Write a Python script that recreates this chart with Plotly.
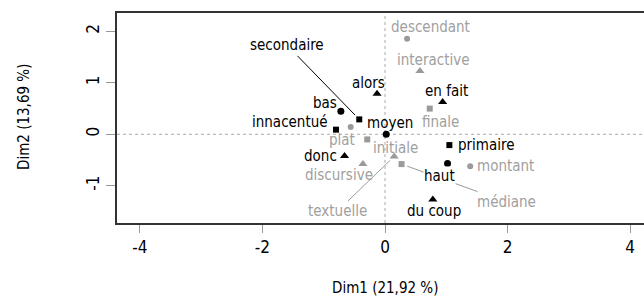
import plotly.graph_objects as go

# ---------------- data ----------------
niveau_labels = ["bas", "moyen", "haut"]
niveau_dim1 = [-0.72, 0.02, 1.02]
niveau_dim2 = [0.45, 0.00, -0.57]

contour_labels = ["descendant", "plat", "montant"]
contour_dim1 = [0.36, -0.56, 1.39]
contour_dim2 = [1.86, 0.14, -0.62]

accent_labels = ["innacentué", "secondaire", "primaire"]
accent_dim1 = [-0.80, -0.42, 1.05]
accent_dim2 = [0.09, 0.29, -0.21]

position_labels = ["initiale", "finale", "médiane"]
position_dim1 = [-0.29, 0.73, 0.27]
position_dim2 = [-0.10, 0.50, -0.58]

marqueur_labels = ["alors", "en fait", "donc", "du coup"]
marqueur_dim1 = [-0.13, 0.94, -0.66, 0.78]
marqueur_dim2 = [0.79, 0.63, -0.42, -1.27]

fonction_labels = ["interactive", "discursive", "textuelle"]
fonction_dim1 = [0.57, -0.36, 0.15]
fonction_dim2 = [1.23, -0.58, -0.43]

x_ticks = [-4, -2, 0, 2, 4]
x_ticktext = ["-4", "-2", "0", "2", "4"]
y_ticks = [-1, 0, 1, 2]
y_ticktext = ["-1", "0", "1", "2"]
x_title = "Dim1 (21,92 %)"
y_title = "Dim2 (13,69 %)"

# ---------------- styles ----------------
BLACK = "#000000"
GREY = "#9a9a9a"
GREY_TXT = "#a0a0a0"
FONT = "DejaVu Sans Condensed, DejaVu Sans, sans-serif"
FS = 15

groups = [
    (niveau_labels, niveau_dim1, niveau_dim2, "circle", 7, BLACK, BLACK),
    (contour_labels, contour_dim1, contour_dim2, "circle", 6, GREY, GREY_TXT),
    (accent_labels, accent_dim1, accent_dim2, "square", 6, BLACK, BLACK),
    (position_labels, position_dim1, position_dim2, "square", 6, GREY, GREY_TXT),
    (marqueur_labels, marqueur_dim1, marqueur_dim2, "triangle-up", 8, BLACK, BLACK),
    (fonction_labels, fonction_dim1, fonction_dim2, "triangle-up", 8, GREY, GREY_TXT),
]

# label placement: (xanchor, xshift px, yshift px downward) or ("arrow", ax, ay)
label_place = {
    "bas": ("right", -2, -8),
    "moyen": ("center", 4, -11),
    "haut": ("center", -8, 12),
    "descendant": ("center", 23, -12),
    "plat": ("center", -9, 13),
    "montant": ("left", 5, 0),
    "innacentué": ("right", -6, -8),
    "secondaire": ("arrow", -72, -74),
    "primaire": ("left", 7, 0),
    "initiale": ("left", 4, 9),
    "finale": ("center", 11, 13),
    "médiane": ("arrow", 105, 38),
    "alors": ("center", -9, -11),
    "en fait": ("center", 4, -11),
    "donc": ("right", -6, 0),
    "du coup": ("center", 1, 11),
    "interactive": ("center", 13, -11),
    "discursive": ("center", -24, 11),
    "textuelle": ("arrow", -57, 55),
}

fig = go.Figure()
annotations = []
haut_ann = None
for labels, xs, ys, sym, size, mcol, tcol in groups:
    fig.add_trace(go.Scatter(
        x=xs, y=ys, mode="markers", text=labels, hoverinfo="text",
        marker=dict(symbol=sym, size=size, color=mcol, line=dict(width=0)),
        showlegend=False,
    ))
    for lab, xv, yv in zip(labels, xs, ys):
        p = label_place[lab]
        if p[0] == "arrow":
            ann = dict(x=xv, y=yv, xref="x", yref="y", text=lab, showarrow=True,
                       ax=p[1], ay=p[2], arrowhead=0, arrowwidth=1,
                       arrowcolor=mcol, standoff=6,
                       font=dict(family=FONT, size=FS, color=tcol))
        else:
            ann = dict(x=xv, y=yv, xref="x", yref="y", text=lab, showarrow=False,
                       xanchor=p[0], yanchor="middle", xshift=p[1], yshift=-p[2],
                       font=dict(family=FONT, size=FS, color=tcol))
        if lab == "haut":
            ann.update(bgcolor="white", borderpad=0)
            haut_ann = ann
        else:
            annotations.append(ann)
annotations.append(haut_ann)

# axis titles
annotations.append(dict(x=0, y=0, xref="x", yref="paper", text=x_title,
                        showarrow=False, yanchor="middle", yshift=-65,
                        font=dict(family=FONT, size=FS, color=BLACK)))
annotations.append(dict(x=0, y=0.5, xref="paper", yref="paper", text=y_title,
                        showarrow=False, xanchor="center", yanchor="middle",
                        xshift=-93, yshift=1, textangle=-90,
                        font=dict(family=FONT, size=FS, color=BLACK)))

fig.add_hline(y=0, line=dict(color="#aaaaaa", width=1, dash="3px,3px"), layer="below")
fig.add_vline(x=0, line=dict(color="#aaaaaa", width=1, dash="3px,3px"), layer="below")

fig.update_layout(
    width=644, height=301,
    margin=dict(l=117, r=0, t=13, b=78, autoexpand=False),
    paper_bgcolor="white", plot_bgcolor="white",
    annotations=annotations,
    font=dict(family=FONT, size=FS, color=BLACK),
    xaxis=dict(range=[-4.372, 4.225], tickvals=x_ticks, ticktext=x_ticktext,
               ticks="outside", automargin=False,
               ticklen=8, tickcolor="#999999", tickwidth=1,
               showline=True, mirror=True, linecolor="#333333", linewidth=1.5,
               showgrid=False, zeroline=False,
               tickfont=dict(family=FONT, size=17, color=BLACK)),
    yaxis=dict(range=[-1.726, 2.36], tickvals=y_ticks, ticktext=y_ticktext,
               ticks="outside", automargin=False,
               ticklen=9, tickcolor="#999999", tickwidth=1, tickangle=-90,
               showline=True, mirror=False, linecolor="#333333", linewidth=1.5,
               showgrid=False, zeroline=False,
               tickfont=dict(family=FONT, size=17, color=BLACK)),
)

# remove the default 8px page margin so the 644x301 figure fills the window
fig.write_html(
    "out.html",
    config={"displayModeBar": False},
    post_script="document.body.style.margin='0';document.body.style.overflow='hidden';",
)
